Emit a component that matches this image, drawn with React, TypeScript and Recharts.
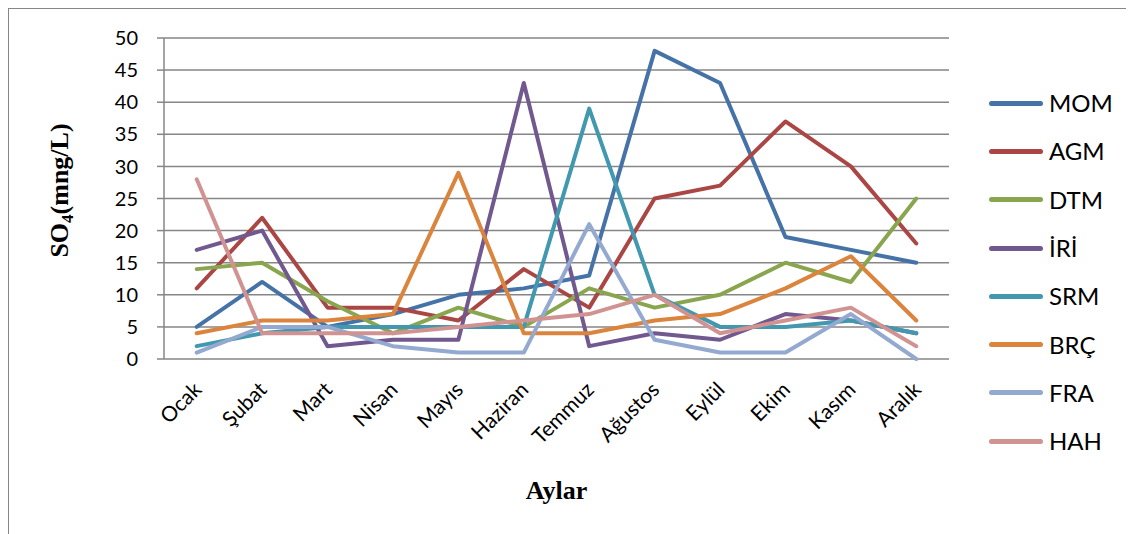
import React from 'react';
import { LineChart, Line, XAxis, YAxis, CartesianGrid } from 'recharts';

const months = ['Ocak', 'Şubat', 'Mart', 'Nisan', 'Mayıs', 'Haziran', 'Temmuz', 'Ağustos', 'Eylül', 'Ekim', 'Kasım', 'Aralık'];

const MOM = [5, 12, 5, 7, 10, 11, 13, 48, 43, 19, 17, 15];
const AGM = [11, 22, 8, 8, 6, 14, 8, 25, 27, 37, 30, 18];
const DTM = [14, 15, 9, 4, 8, 5, 11, 8, 10, 15, 12, 25];
const IRI = [17, 20, 2, 3, 3, 43, 2, 4, 3, 7, 6, 4];
const SRM = [2, 4, 5, 5, 5, 5, 39, 10, 5, 5, 6, 4];
const BRC = [4, 6, 6, 7, 29, 4, 4, 6, 7, 11, 16, 6];
const FRA = [1, 5, 5, 2, 1, 1, 21, 3, 1, 1, 7, 0];
const HAH = [28, 4, 4, 4, 5, 6, 7, 10, 4, 6, 8, 2];

const seriesNames = ['MOM', 'AGM', 'DTM', 'İRİ', 'SRM', 'BRÇ', 'FRA', 'HAH'];
const seriesValues = [MOM, AGM, DTM, IRI, SRM, BRC, FRA, HAH];
const seriesColors = ['#4572A7', '#AA4643', '#89A54E', '#71588F', '#4198AF', '#DB843D', '#93A9CF', '#D19392'];

const yTicks = [0, 5, 10, 15, 20, 25, 30, 35, 40, 45, 50];
const yTitle = 'SO';
const yTitleSub = '4';
const yTitleRest = '(mng/L)';
const xTitle = 'Aylar';

const data = months.map((m, i) => {
  const row: Record<string, any> = { month: m };
  seriesNames.forEach((n, k) => {
    row[n] = seriesValues[k][i];
  });
  return row;
});

const boundaryTicks = Array.from({ length: months.length + 1 }, (_, i) => i);

const AXIS = '#868686';
const FONT = 'Lato, "Open Sans", sans-serif';
const SERIF = '"Liberation Serif", "DejaVu Serif", serif';

const MonthTick = (props: any) => {
  const { x, y, payload } = props;
  const ax = x + 6;
  const ay = y + 32;
  return (
    <text x={ax} y={ay} transform={`rotate(-45, ${ax}, ${ay})`} textAnchor="end" fontFamily={FONT} fontSize={21} fill="#000">
      {payload.value}
    </text>
  );
};

const YTitle = (props: any) => {
  const vb = props.viewBox || { x: 0, y: 30, width: 156, height: 321 };
  const cx = vb.x + 60;
  const cy = vb.y + vb.height / 2 - 8;
  return (
    <text x={cx} y={cy} transform={`rotate(-90, ${cx}, ${cy})`} textAnchor="middle" fontFamily={SERIF} fontWeight="bold" fontSize={26} fill="#000">
      {yTitle}
      <tspan fontSize={17} dy={5}>{yTitleSub}</tspan>
      <tspan dy={-5}>{yTitleRest}</tspan>
    </text>
  );
};

const XTitle = (props: any) => {
  const vb = props.viewBox || { x: 156, y: 351, width: 785, height: 110 };
  const cx = vb.x + vb.width / 2;
  const cy = vb.y + 140;
  return (
    <text x={cx} y={cy} textAnchor="middle" fontFamily={SERIF} fontWeight="bold" fontSize={26} fill="#000">
      {xTitle}
    </text>
  );
};

export default function App() {
  return (
    <div style={{ position: 'relative', width: 1126, height: 526 }}>
      <LineChart width={1126} height={526} data={data} margin={{ top: 30, right: 185, bottom: 65, left: 0 }}>
        <CartesianGrid vertical={false} stroke={AXIS} strokeWidth={1.5} />
        <XAxis
          xAxisId="bounds"
          type="number"
          domain={[0, months.length]}
          ticks={boundaryTicks}
          allowDataOverflow
          tick={false}
          tickSize={7}
          height={0}
          axisLine={{ stroke: AXIS, strokeWidth: 1.5 }}
          tickLine={{ stroke: AXIS, strokeWidth: 1.5 }}
        />
        <XAxis
          dataKey="month"
          scale="band"
          interval={0}
          height={110}
          axisLine={false}
          tickLine={false}
          tickSize={0}
          tickMargin={0}
          tick={<MonthTick />}
          label={<XTitle />}
        />
        <YAxis
          width={156}
          domain={[0, 50]}
          ticks={yTicks}
          interval={0}
          tickSize={7}
          tickMargin={19}
          axisLine={{ stroke: AXIS, strokeWidth: 1.5 }}
          tickLine={{ stroke: AXIS, strokeWidth: 1.5 }}
          tick={{ fontFamily: FONT, fontSize: 20, fill: '#000' }}
          label={<YTitle />}
        />
        {seriesNames.map((n, k) => (
          <Line
            key={n}
            dataKey={n}
            name={n}
            stroke={seriesColors[k]}
            strokeWidth={4}
            strokeLinejoin="round"
            strokeLinecap="round"
            dot={false}
            activeDot={false}
            isAnimationActive={false}
          />
        ))}
      </LineChart>
      <div style={{ position: 'absolute', left: 981, top: 71, fontFamily: FONT, fontSize: 24, color: '#000' }}>
        {seriesNames.map((n, k) => (
          <div key={n} style={{ display: 'flex', alignItems: 'center', height: 48.3 }}>
            <span style={{ display: 'inline-block', width: 54, height: 5, borderRadius: 3, background: seriesColors[k], marginRight: 6 }} />
            <span style={{ lineHeight: 1 }}>{n}</span>
          </div>
        ))}
      </div>
      <div style={{ position: 'absolute', left: 0, top: 0, width: 1126, height: 526, borderTop: `1px solid ${AXIS}`, borderLeft: `1px solid ${AXIS}`, boxSizing: 'border-box', pointerEvents: 'none' }} />
    </div>
  );
}
